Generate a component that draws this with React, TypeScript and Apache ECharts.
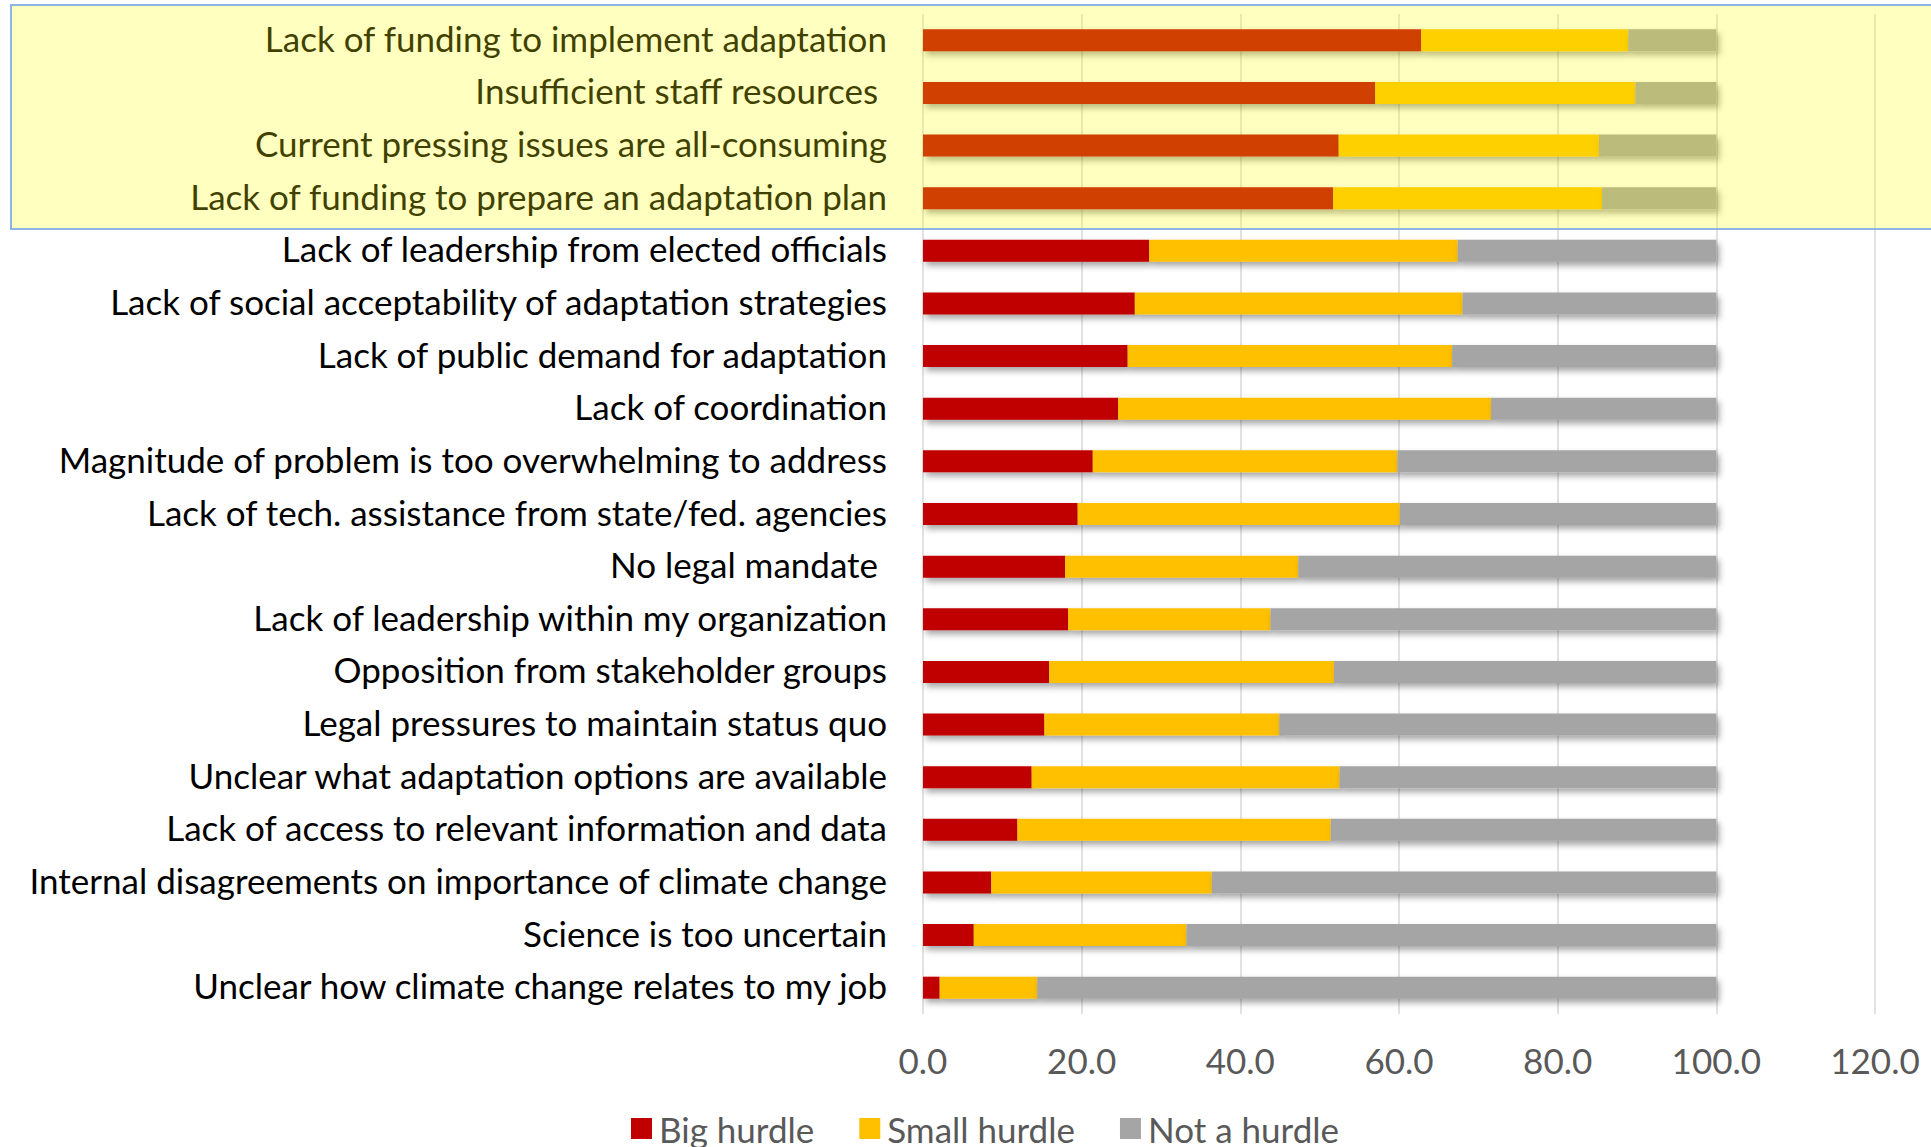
import React, { useEffect, useRef } from "react";
import * as echarts from "echarts";

const categories = [
  "Lack of funding to implement adaptation",
  "Insufficient staff resources ",
  "Current pressing issues are all-consuming",
  "Lack of funding to prepare an adaptation plan",
  "Lack of leadership from elected officials",
  "Lack of social acceptability of adaptation strategies",
  "Lack of public demand for adaptation",
  "Lack of coordination",
  "Magnitude of problem is too overwhelming to address",
  "Lack of tech. assistance from state/fed. agencies",
  "No legal mandate ",
  "Lack of leadership within my organization",
  "Opposition from stakeholder groups",
  "Legal pressures to maintain status quo",
  "Unclear what adaptation options are available",
  "Lack of access to relevant information and data",
  "Internal disagreements on importance of climate change",
  "Science is too uncertain",
  "Unclear how climate change relates to my job",
];

const bigHurdle = [62.8, 57.0, 52.4, 51.7, 28.5, 26.7, 25.8, 24.6, 21.4, 19.5, 17.9, 18.3, 15.9, 15.3, 13.7, 11.9, 8.6, 6.4, 2.1];
const smallHurdle = [26.1, 32.8, 32.8, 33.9, 38.9, 41.3, 40.9, 47.0, 38.4, 40.6, 29.4, 25.5, 35.9, 29.6, 38.8, 39.5, 27.8, 26.8, 12.3];
const notHurdle = [11.1, 10.2, 14.8, 14.4, 32.6, 32.0, 33.3, 28.4, 40.2, 39.9, 52.7, 56.2, 48.2, 55.1, 47.5, 48.6, 63.6, 66.8, 85.6];

const seriesNames = ["Big hurdle", "Small hurdle", "Not a hurdle"];
const seriesColors = ["#C00000", "#FFC000", "#A5A5A5"];

const axisMin = 0;
const axisMax = 120;
const axisInterval = 20;

const FONT = "Lato, 'Noto Sans', sans-serif";

export default function App() {
  const ref = useRef<HTMLDivElement>(null);

  useEffect(() => {
    document.body.style.margin = "0";
    if (!ref.current) return;
    const chart = echarts.init(ref.current, undefined, { renderer: "svg" });
    const values = [bigHurdle, smallHurdle, notHurdle];
    const series = seriesNames.map((name, i) => ({
      name,
      type: "bar",
      stack: "total",
      barWidth: 22,
      data: values[i],
      itemStyle: {
        color: seriesColors[i],
        shadowBlur: 6,
        shadowOffsetX: 3,
        shadowOffsetY: 4,
        shadowColor: "rgba(0,0,0,0.35)",
      },
    }));
    chart.setOption({
      animation: false,
      backgroundColor: "#FFFFFF",
      textStyle: { fontFamily: FONT },
      grid: { left: 923, right: 56, top: 14, bottom: 133, containLabel: false },
      xAxis: {
        type: "value",
        min: axisMin,
        max: axisMax,
        interval: axisInterval,
        axisLine: { show: false },
        axisTick: { show: false },
        splitLine: { show: true, lineStyle: { color: "#D9D9D9", width: 1.5 } },
        axisLabel: {
          color: "#595959",
          fontSize: 35,
          fontFamily: FONT,
          margin: 28,
          formatter: (v: number) => v.toFixed(1),
        },
      },
      yAxis: {
        type: "category",
        inverse: true,
        data: categories,
        axisLine: { show: false },
        axisTick: { show: false },
        axisLabel: {
          color: "#000000",
          fontSize: 35,
          fontFamily: FONT,
          margin: 36,
          formatter: (v: string) => `{l|${v}}`,
          rich: {
            l: {
              color: "#000000",
              fontSize: 35,
              fontFamily: FONT,
              padding: [0, 0, 5, 0],
            },
          },
        },
      },
      legend: {
        data: seriesNames,
        left: 631,
        top: 1111,
        padding: 0,
        icon: "rect",
        itemWidth: 21,
        itemHeight: 21,
        itemGap: 45,
        textStyle: { color: "#595959", fontSize: 35, fontFamily: FONT, padding: [0, 0, 0, 2] },
      },
      graphic: [
        {
          type: "rect",
          z: 100,
          silent: true,
          shape: { x: 11, y: 5, width: 1930, height: 224 },
          style: { fill: "rgba(255,255,0,0.25)", stroke: "#8DB4E2", lineWidth: 2 },
        },
      ],
      series,
    });
    return () => chart.dispose();
  }, []);

  return (
    <div
      ref={ref}
      style={{ position: "absolute", left: 0, top: 0, width: 1931, height: 1147 }}
    />
  );
}
